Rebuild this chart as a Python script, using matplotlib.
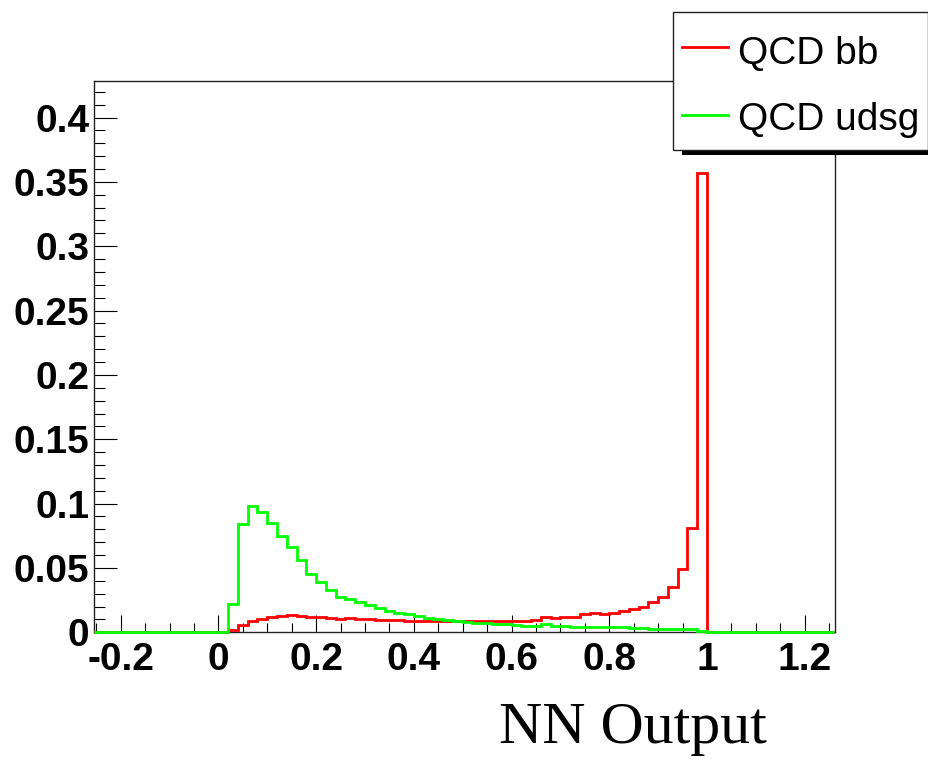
import numpy as np
import matplotlib
matplotlib.use('Agg')
import matplotlib.pyplot as plt
from matplotlib.ticker import MultipleLocator, FormatStrFormatter
from matplotlib.patches import Rectangle
from matplotlib.lines import Line2D

# NN output histograms, 0.02 wide bins from 0 to 1 (normalised to unit area)
bin_lo = 0.0
bin_w = 0.02
qcd_bb = [0.0, 0.002, 0.006, 0.009, 0.0105, 0.012, 0.0128, 0.0132, 0.0125, 0.0122,
          0.0118, 0.0115, 0.0105, 0.0112, 0.0105, 0.0102, 0.0097, 0.0092, 0.0092, 0.0090,
          0.0091, 0.0090, 0.0090, 0.0084, 0.0090, 0.0089, 0.0090, 0.0090, 0.0090, 0.0091,
          0.0090, 0.0090, 0.0092, 0.0120, 0.0108, 0.0118, 0.0120, 0.0140, 0.0150, 0.0140,
          0.0152, 0.0165, 0.0180, 0.0200, 0.0238, 0.0277, 0.0354, 0.0490, 0.0813, 0.357]
qcd_udsg = [0.0, 0.0218, 0.0841, 0.0981, 0.0937, 0.0852, 0.0748, 0.0665, 0.0562, 0.0451,
            0.0393, 0.0329, 0.0277, 0.0261, 0.0238, 0.0212, 0.0186, 0.0166, 0.0152, 0.0142,
            0.0127, 0.0114, 0.0104, 0.0097, 0.0090, 0.0083, 0.0076, 0.0071, 0.0066, 0.0062,
            0.0057, 0.0052, 0.0050, 0.0062, 0.0052, 0.0050, 0.0042, 0.0040, 0.0039, 0.0039,
            0.0038, 0.0038, 0.0037, 0.0035, 0.0029, 0.0028, 0.0028, 0.0027, 0.0026, 0.0008]
labels = ['QCD bb', 'QCD udsg']
colors = ['#ff0000', '#00ff00']

x_lo, x_hi = -0.254, 1.262

# empty bins on either side so the outline runs along the whole axis
n_pad = 13
vals_bb = np.concatenate([np.zeros(n_pad), qcd_bb, np.zeros(n_pad)])
vals_udsg = np.concatenate([np.zeros(n_pad), qcd_udsg, np.zeros(n_pad)])
edges = bin_lo + bin_w * np.arange(-n_pad, len(qcd_bb) + n_pad + 1)
edges = np.clip(edges, x_lo, x_hi)

W, H = 929, 761
fig = plt.figure(figsize=(W / 100, H / 100), dpi=100)
ax = fig.add_axes([94.3 / W, 1 - 632.3 / H, (835 - 94.3) / W, (632.3 - 81) / H])

# drawn above the frame so the zero level outline stays visible
ax.stairs(vals_bb, edges, color=colors[0], lw=2.0, baseline=None, clip_on=False, zorder=3)
ax.stairs(vals_udsg, edges, color=colors[1], lw=2.0, baseline=None, clip_on=False, zorder=3)

ax.set_xlim(x_lo, x_hi)
ax.set_ylim(0, 0.4284)

ax.xaxis.set_major_locator(MultipleLocator(0.2))
ax.xaxis.set_minor_locator(MultipleLocator(0.05))
ax.yaxis.set_major_locator(MultipleLocator(0.05))
ax.yaxis.set_minor_locator(MultipleLocator(0.01))
ax.xaxis.set_major_formatter(FormatStrFormatter('%g'))
ax.yaxis.set_major_formatter(FormatStrFormatter('%g'))

tick_font = dict(family='Liberation Sans', weight='bold', size=28)
for lab in ax.get_xticklabels() + ax.get_yticklabels():
    lab.set_fontproperties(matplotlib.font_manager.FontProperties(**tick_font))

ax.tick_params(axis='both', which='both', direction='in', top=False, right=False,
               width=0.8, color='black')
ax.tick_params(axis='y', which='major', length=16.5, pad=3.5)
ax.tick_params(axis='y', which='minor', length=8)
ax.tick_params(axis='x', which='major', length=12.5, pad=7)
ax.tick_params(axis='x', which='minor', length=6.5)
for sp in ax.spines.values():
    sp.set_linewidth(1.0)
    sp.set_color('#222222')

# legend box with a drop shadow, drawn in figure pixels
def px(x, y):
    return x / W, 1 - y / H

sx, sy = px(682, 155)
fig.add_artist(Rectangle((sx, sy), (940 - 682) / W, (155 - 20) / H,
                         transform=fig.transFigure, facecolor='black',
                         edgecolor='none', zorder=10))
lx, ly = px(673, 150)
fig.add_artist(Rectangle((lx, ly), (928 - 673) / W, (150 - 12) / H,
                         transform=fig.transFigure, facecolor='white',
                         edgecolor='#222222', lw=1.0, zorder=11))
for i, (lab, col) in enumerate(zip(labels, colors)):
    yline = [47, 115][i]
    ybase = [64, 130][i]
    x0, y0 = px(682, yline)
    x1, _ = px(728, yline)
    fig.add_artist(Line2D([x0, x1], [y0, y0], transform=fig.transFigure,
                          color=col, lw=2.0, zorder=12))
    tx, ty = px(738, ybase)
    fig.text(tx, ty, lab, family='Liberation Sans', size=28, va='baseline',
             ha='left', zorder=12)

fig.text(633 / W, 1 - 743 / H, 'NN Output', family='Liberation Serif', size=43,
         ha='center', va='baseline')

fig.savefig('out.png', dpi=100, facecolor='white')
